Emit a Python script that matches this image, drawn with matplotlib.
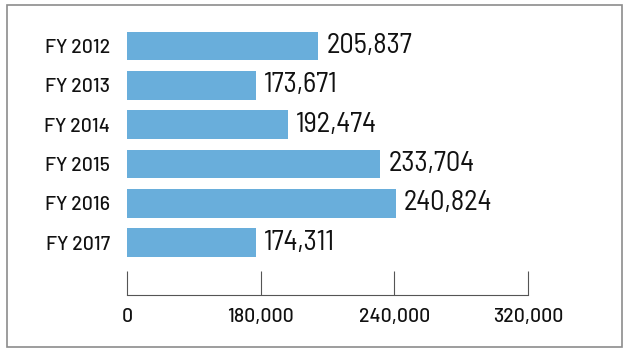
import numpy as np
import matplotlib
matplotlib.use("Agg")
import matplotlib.pyplot as plt
from matplotlib.patches import Rectangle

# data
years = ["FY 2012", "FY 2013", "FY 2014", "FY 2015", "FY 2016", "FY 2017"]
values = [205837, 173671, 192474, 233704, 240824, 174311]
tick_values = [0, 180000, 240000, 320000]
tick_labels = ["0", "180,000", "240,000", "320,000"]

plt.rcParams["font.family"] = ["Barlow", "Roboto", "DejaVu Sans"]
value_font = ["Barlow Semi Condensed", "Roboto Condensed", "DejaVu Sans"]

W, H = 628, 353
fig = plt.figure(figsize=(W / 100, H / 100), dpi=100)

# the original axis is evenly spaced between uneven tick values,
# so use a piecewise linear scale through the ticks
knots = np.array(tick_values, dtype=float)
steps = np.arange(len(knots), dtype=float)


def forward(v):
    return np.interp(v, knots, steps)


def inverse(u):
    return np.interp(u, steps, knots)


# axes placed in pixel terms
left, right = 127, 528
top, bottom = 20, 295
ax = fig.add_axes([left / W, 1 - bottom / H, (right - left) / W, (bottom - top) / H])
ax.set_xscale("function", functions=(forward, inverse))
ax.set_xlim(0, 320000)

y = np.arange(len(years))
ax.barh(y, values, height=0.73, color="#69aedb", zorder=2)
ax.set_ylim(6.33, -0.66)

for yi, v in zip(y, values):
    ax.annotate(f"{v:,}", (v, yi), xytext=(8, 0), textcoords="offset pixels",
                va="center", ha="left", fontsize=20.5, fontweight=400,
                family=value_font, color="#111111")

ax.set_yticks(y)
ax.set_yticklabels(years, fontsize=14, fontweight=500, color="#111111")
ax.tick_params(axis="y", length=0, pad=12)

ax.set_xticks(tick_values)
ax.set_xticklabels(tick_labels, fontsize=14, fontweight=500, color="#111111")
ax.tick_params(axis="x", direction="in", length=17, width=0.8, color="#555555", pad=9)

for s in ["top", "right", "left"]:
    ax.spines[s].set_visible(False)
ax.spines["bottom"].set_color("#555555")
ax.spines["bottom"].set_linewidth(0.8)

# grey frame around the whole graphic
fig.patches.append(Rectangle((7 / W, 1 - 347 / H), (622 - 7) / W, (347 - 5) / H,
                             transform=fig.transFigure, fill=False,
                             edgecolor="#8c8c8c", linewidth=1.2))

fig.savefig("out.png", dpi=100)
